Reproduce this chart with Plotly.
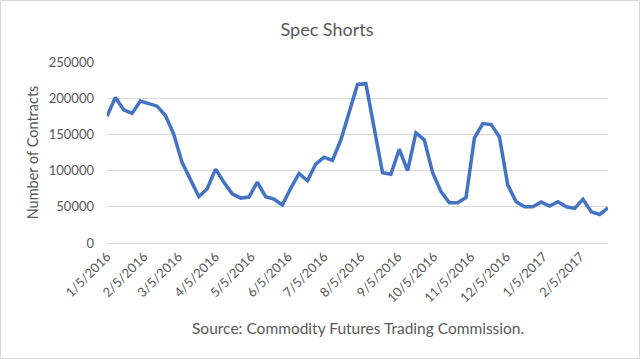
import pandas as pd
import plotly.graph_objects as go

title = "Spec Shorts"
y_title = "Number of Contracts"
source = "Source: Commodity Futures Trading Commission."
start_date = "2016-01-05"
end_date = "2017-02-28"
tick_start = "2016-01-05"

spec_shorts = [175000, 201000, 184000, 179000, 196000, 192000, 189000, 176000, 150000, 111000,
               88000, 64000, 75000, 102000, 84000, 68000, 62000, 63500, 84000, 64000,
               60500, 52500, 75500, 96000, 86000, 109000, 118500, 114000, 142000, 180000,
               219000, 220000, 158000, 97000, 95000, 129500, 100000, 152000, 142500, 97000,
               71000, 55500, 55500, 63000, 145000, 165000, 163500, 146500, 80000, 57000,
               50000, 50000, 56500, 51000, 57000, 50000, 47800, 60300, 43000, 39400, 48600]
dates = pd.date_range(start_date, periods=len(spec_shorts), freq="7D")

FONT = "Lato, Calibri, Carlito, sans-serif"
GRAY = "#595959"

fig = go.Figure()
fig.add_trace(go.Scatter(x=dates, y=spec_shorts, mode="lines",
                         line=dict(color="#4472C4", width=3.5), hoverinfo="x+y"))

W, H = 640, 359
L, R, T, B = 107, 32, 62, 116
pw, ph = W - L - R, H - T - B

fig.update_layout(
    width=W, height=H,
    margin=dict(l=L, r=R, t=T, b=B, autoexpand=False),
    paper_bgcolor="white", plot_bgcolor="white",
    showlegend=False,
    font=dict(family=FONT, color=GRAY, size=12),
    title=dict(text=title, x=327 / W, xanchor="center", y=1 - 30 / H, yanchor="middle",
               font=dict(size=18, color=GRAY, family=FONT)),
    xaxis=dict(type="date", range=[start_date, end_date], tick0=tick_start, dtick="M1",
               tickformat="%-m/%-d/%Y", tickangle=-45, showgrid=False, automargin=False,
               showline=True, linecolor="#D9D9D9", linewidth=1, ticks="",
               tickfont=dict(size=13, color=GRAY), fixedrange=True),
    yaxis=dict(range=[0, 250000], dtick=50000, tickformat="d", showgrid=True, automargin=False,
               gridcolor="#D9D9D9", gridwidth=1, zeroline=False, showline=False,
               ticks="", ticklabelstandoff=12,
               tickfont=dict(size=13, color=GRAY),
               title=dict(text=y_title, font=dict(size=14.5, color=GRAY), standoff=6)),
    annotations=[dict(text=source, xref="paper", yref="paper",
                      x=(358 - L) / pw, y=(H - B - 328) / ph, xanchor="center", yanchor="middle",
                      showarrow=False, font=dict(size=15.5, color=GRAY, family=FONT))],
    shapes=[dict(type="rect", xref="paper", yref="paper",
                 x0=(0.5 - L) / pw, x1=(639.5 - L) / pw,
                 y0=(H - B - 358.5) / ph, y1=(H - B - 0.5) / ph,
                 line=dict(color="#D9D9D9", width=1), fillcolor="rgba(0,0,0,0)", layer="below")],
)

fig.write_html("out.html", config={"displayModeBar": False},
               post_script="document.body.style.margin='0';document.body.style.overflow='hidden';")
